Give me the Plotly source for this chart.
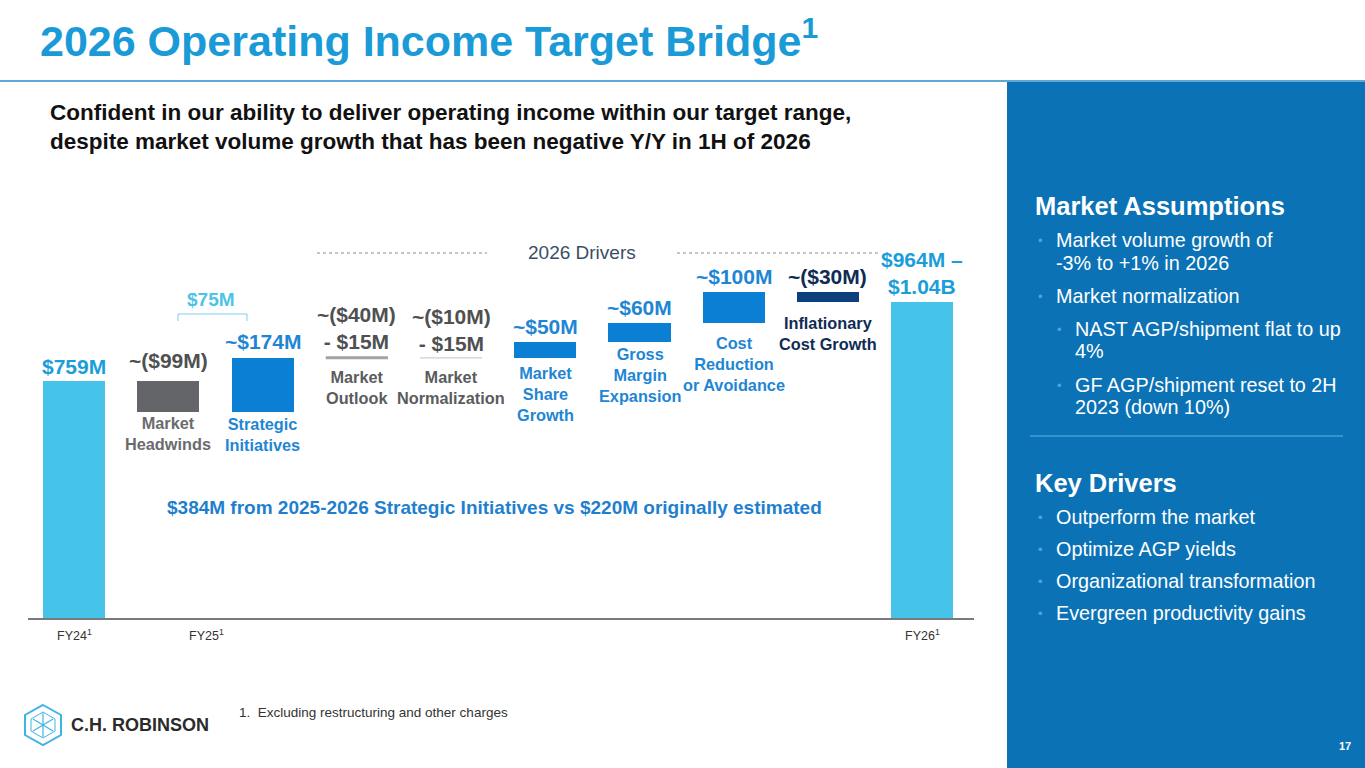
import plotly.graph_objects as go

# bridge steps in $M (None = end total)
categories = ["FY24", "Market Headwinds", "Strategic Initiatives", "Market Outlook",
              "Market Normalization", "Market Share Growth", "Gross Margin Expansion",
              "Cost Reduction or Avoidance", "Inflationary Cost Growth", "FY26"]
steps = [759, -99, 174, 0, 0, 50, 60, 100, -30, None]
value_labels = ["$759M", "~($99M)", "~$174M", "~($40M)<br>- $15M", "~($10M)<br>- $15M",
                "~$50M", "~$60M", "~$100M", "~($30M)", "$964M –<br>$1.04B"]
name_labels = ["", "Market<br>Headwinds", "Strategic<br>Initiatives", "Market<br>Outlook",
               "Market<br>Normalization", "Market<br>Share<br>Growth", "Gross<br>Margin<br>Expansion",
               "Cost<br>Reduction<br>or Avoidance", "Inflationary<br>Cost Growth", ""]
period_labels = ["FY24", "FY25", "FY26"]
period_pos = [0, 1.4, 9]

# (indent level, has bullet, text)
assumptions = [
    (1, True, "Market volume growth of"), (1, False, "-3% to +1% in 2026"),
    (1, True, "Market normalization"),
    (2, True, "NAST AGP/shipment flat to up"), (2, False, "4%"),
    (2, True, "GF AGP/shipment reset to 2H"), (2, False, "2023 (down 10%)"),
]
key_drivers = ["Outperform the market", "Optimize AGP yields",
               "Organizational transformation", "Evergreen productivity gains"]

W, H = 1365, 768
FONT = "Liberation Sans, Arial, sans-serif"
LIGHT = "#45c3e8"
BLUE = "#0a7fd4"
GRAY = "#636569"
NAVY = "#0c3f7c"
bar_colors = [LIGHT, GRAY, BLUE, "#a3a3a3", "#cfcfcf", BLUE, BLUE, BLUE, NAVY, LIGHT]
val_colors = ["#1a9ed9", "#4f5052", "#1f86d4", "#4f5052", "#4f5052",
              "#1f86d4", "#1f86d4", "#1f86d4", "#0f2c54", "#1a9ed9"]
name_colors = ["#5b5c5e", "#6a6b6d", "#1f86d4", "#5b5c5e", "#5b5c5e",
               "#1f86d4", "#1f86d4", "#1f86d4", "#0f2c54", "#5b5c5e"]
marker_widths = {3: 3, 4: 1.2}
val_shift = [1, 7, 3, 3, 1, 2, 2, 2, 2, 2]
name_shift = [0, 0, -1, -8, -8, -4, -1, -9, -10, 0]


def px(x):
    return x / W


def py(y):
    return 1 - y / H


def note(x, y, text, size, color, anchor="left", **kw):
    d = dict(x=px(x), y=py(y), xref="paper", yref="paper", xanchor=anchor, yanchor="middle",
             text=text, showarrow=False, font=dict(size=size, color=color, family=FONT))
    d.update(kw)
    return d


# running totals
bases, heights = [], []
running = 0
for s in steps:
    if s is None:
        bases.append(0)
        heights.append(running)
    else:
        bases.append(running)
        heights.append(s)
        running += s

xs = list(range(len(categories)))
fig = go.Figure()
fig.add_trace(go.Bar(x=xs, y=heights, base=bases, width=0.66,
                     marker=dict(color=bar_colors, line=dict(width=0)),
                     hovertext=categories, showlegend=False))

# flat markers (range items) drawn as lines
for i, s in enumerate(steps):
    if s == 0:
        fig.add_trace(go.Scatter(x=[i - 0.33, i + 0.33], y=[bases[i], bases[i]], mode="lines",
                                 line=dict(color=bar_colors[i], width=marker_widths[i]),
                                 showlegend=False, hoverinfo="skip"))

ann = []
for i in xs:
    top = max(bases[i], bases[i] + heights[i])
    bot = min(bases[i], bases[i] + heights[i])
    ann.append(dict(x=i, y=top, xref="x", yref="y", yanchor="bottom", yshift=val_shift[i],
                    text="<b>" + value_labels[i] + "</b>", showarrow=False,
                    font=dict(size=21, color=val_colors[i], family=FONT)))
    if name_labels[i]:
        ann.append(dict(x=i, y=bot, xref="x", yref="y", yanchor="top", yshift=name_shift[i],
                        text="<b>" + name_labels[i] + "</b>", showarrow=False,
                        font=dict(size=16.3, color=name_colors[i], family=FONT)))

for lab, p in zip(period_labels, period_pos):
    ann.append(dict(x=p, y=0, xref="x", yref="y", yanchor="top", yshift=-7,
                    text=lab + "<sup>1</sup>", showarrow=False,
                    font=dict(size=12.5, color="#333333", family=FONT)))

# title / subtitle
ann.append(note(38, 38, "<b>2026 Operating Income Target Bridge<sup>1</sup></b>", 43, "#1a9ad6"))
ann.append(note(48, 127, "<b>Confident in our ability to deliver operating income within our target range,<br>"
                         "despite market volume growth that has been negative Y/Y in 1H of 2026</b>",
                22.5, "#111111", align="left"))

# drivers header, bracket, strategic note
ann.append(note(582, 253, "2026 Drivers", 19, "#3b4d66", anchor="center"))
ann.append(note(211, 299, "<b>$75M</b>", 19, "#4dc3e8", anchor="center"))
ann.append(note(494, 507, "<b>$384M from 2025-2026 Strategic Initiatives vs $220M originally estimated</b>",
                19, "#1f7fcf", anchor="center"))

# right panel
ann.append(note(1033, 206, "<b>Market Assumptions</b>", 25.5, "white"))
rows_y = [240, 263, 296, 329, 351, 385, 407]
for (lvl, bullet, txt), yy in zip(assumptions, rows_y):
    tx = 1054 if lvl == 1 else 1073
    if bullet:
        ann.append(note(tx - 18, yy, "•", 13, "#4aa8de"))
    ann.append(note(tx, yy, txt, 19.8, "white"))
ann.append(note(1033, 483, "<b>Key Drivers</b>", 25.5, "white"))
for k, txt in enumerate(key_drivers):
    yy = 517 + 32 * k
    ann.append(note(1036, yy, "•", 13, "#4aa8de"))
    ann.append(note(1054, yy, txt, 19.8, "white"))
ann.append(note(1353, 746, "<b>17</b>", 11, "white", anchor="right"))

# footer
ann.append(note(237, 712, "1.  Excluding restructuring and other charges", 13.5, "#333333"))
ann.append(note(69, 725, "<b>C.H. ROBINSON</b>", 18, "#2b2b2b"))

shapes = [
    dict(type="rect", xref="paper", yref="paper", x0=px(1007), x1=px(W), y0=py(H), y1=py(82),
         fillcolor="#0b72b5", line=dict(width=0), layer="below"),
    dict(type="line", xref="paper", yref="paper", x0=0, x1=1, y0=py(81), y1=py(81),
         line=dict(color="#5fa7d4", width=2)),
    dict(type="line", xref="paper", yref="paper", x0=px(1030), x1=px(1343), y0=py(436), y1=py(436),
         line=dict(color="#5cb4e4", width=1)),
    dict(type="line", xref="paper", yref="paper", x0=px(317), x1=px(487), y0=py(253), y1=py(253),
         line=dict(color="#8a8a8a", width=1, dash="dot")),
    dict(type="line", xref="paper", yref="paper", x0=px(677), x1=px(880), y0=py(253), y1=py(253),
         line=dict(color="#8a8a8a", width=1, dash="dot")),
    dict(type="path", xref="paper", yref="paper",
         path="M %f %f L %f %f L %f %f L %f %f" % (px(178), py(321), px(178), py(314),
                                                   px(247), py(314), px(247), py(321)),
         line=dict(color="#7fd0ee", width=1)),
]

# logo hexagon
hx = [43, 61, 61, 43, 25, 25]
hy = [705, 715, 735, 745, 735, 715]
path = "M " + " L ".join("%f %f" % (px(a), py(b)) for a, b in zip(hx, hy)) + " Z"
shapes.append(dict(type="path", xref="paper", yref="paper", path=path,
                   line=dict(color="#3fb3e6", width=2)))
ix = [43, 55, 55, 43, 31, 31]
iy = [712, 719, 731, 738, 731, 719]
path = "M " + " L ".join("%f %f" % (px(a), py(b)) for a, b in zip(ix, iy)) + " Z"
shapes.append(dict(type="path", xref="paper", yref="paper", path=path,
                   line=dict(color="#3fb3e6", width=1)))
for a, b, c, d in [(43, 713, 43, 737), (33, 719, 53, 731), (33, 731, 53, 719)]:
    shapes.append(dict(type="line", xref="paper", yref="paper", x0=px(a), y0=py(b), x1=px(c), y1=py(d),
                       line=dict(color="#3fb3e6", width=1.2)))

fig.update_layout(
    width=W, height=H, autosize=False,
    margin=dict(l=0, r=0, t=0, b=0),
    paper_bgcolor="white", plot_bgcolor="white",
    bargap=0,
    xaxis=dict(domain=[px(28), px(974)], range=[-0.49, 9.55], showgrid=False, zeroline=False,
               showticklabels=False, showline=True, linecolor="#7a7a7a", linewidth=2, fixedrange=True),
    yaxis=dict(domain=[py(618), py(80)], range=[0, 538 / 0.312], showgrid=False, zeroline=False,
               showticklabels=False, showline=False, fixedrange=True),
    annotations=ann,
    shapes=shapes,
    showlegend=False,
)

fig.write_html("out.html", config={"displayModeBar": False},
               post_script="document.body.style.margin='0';document.body.style.overflow='hidden';")
